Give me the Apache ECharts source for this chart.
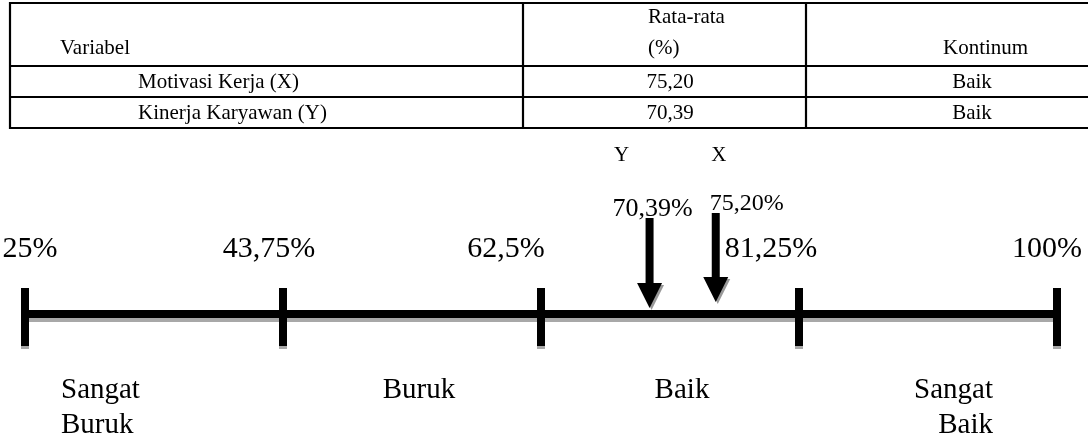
<!DOCTYPE html>
<html>
<head>
<meta charset="utf-8">
<script src="https://cdn.jsdelivr.net/npm/echarts@6/dist/echarts.min.js"></script>
<style>
html,body{margin:0;padding:0;background:#fff;}
#chart{width:1088px;height:443px;}
</style>
</head>
<body>
<div id="chart"></div>
<script>
// ---- data ----
const tableHeader = ['Variabel', 'Rata-rata', '(%)', 'Kontinum'];
const rowLabels = ['Motivasi Kerja (X)', 'Kinerja Karyawan (Y)'];
const rowMeans = ['75,20', '70,39'];
const rowContinuum = ['Baik', 'Baik'];
const scaleTicks = [25, 43.75, 62.5, 81.25, 100];
const tickLabels = ['25%', '43,75%', '62,5%', '81,25%', '100%'];
const categoryNames = ['Sangat\nBuruk', 'Buruk', 'Baik', 'Sangat\nBaik'];
const markerNames = ['Y', 'X'];
const markerValues = [70.39, 75.20];
const markerLabels = ['70,39%', '75,20%'];

// ---- style / layout ----
const FONT = "'Liberation Serif', 'Times New Roman', serif";
const GRAY = '#a8a8a8';
const tickLabelOffset = [5, -14, -35, -28, -10];
const catStyle = [
  {align: 'left', dx: -93},
  {align: 'center', dx: 7},
  {align: 'center', dx: 12},
  {align: 'right', dx: 65}
];
const arrowGeom = [
  {top: 218, head: 283, tip: 308, lblDx: 3, lblAlign: 'center', lblY: 209, lblSize: 26, nameDx: -28},
  {top: 213, head: 277, tip: 302, lblDx: -6, lblAlign: 'left', lblY: 204, lblSize: 24, nameDx: 3}
];

const chart = echarts.init(document.getElementById('chart'), null, {renderer: 'canvas'});

// table graphic elements
const tableEls = [];
const TL = 10, TR = 1090, colX = [TL, 523, 806];
const rowY = [3, 66, 97, 128];
rowY.forEach(y => tableEls.push({type: 'line', shape: {x1: TL - 1, y1: y, x2: TR, y2: y}, style: {stroke: '#000', lineWidth: 2.2}}));
colX.forEach(x => tableEls.push({type: 'line', shape: {x1: x, y1: 2, x2: x, y2: 129}, style: {stroke: '#000', lineWidth: 2.2}}));
function txt(s, x, y, align, size) {
  return {type: 'text', x: x, y: y, style: {text: s, fill: '#000', font: (size || 21) + 'px ' + FONT, align: align || 'left', verticalAlign: 'middle'}};
}
tableEls.push(txt(tableHeader[0], 60, 48));
tableEls.push(txt(tableHeader[1], 648, 17));
tableEls.push(txt(tableHeader[2], 648, 48));
tableEls.push(txt(tableHeader[3], 943, 48));
rowLabels.forEach((s, i) => {
  const y = 82 + i * 31;
  tableEls.push(txt(s, 138, y));
  tableEls.push(txt(rowMeans[i], 670, y, 'center'));
  tableEls.push(txt(rowContinuum[i], 972, y, 'center'));
});

const catMids = categoryNames.map((_, i) => (scaleTicks[i] + scaleTicks[i + 1]) / 2);

const option = {
  animation: false,
  backgroundColor: '#fff',
  grid: {left: 25, right: 31, top: 0, bottom: 0},
  xAxis: {type: 'value', min: 25, max: 100, show: false},
  yAxis: {type: 'value', min: 0, max: 1, show: false},
  graphic: tableEls,
  series: [
    {
      type: 'custom',
      data: [[scaleTicks[0], scaleTicks[scaleTicks.length - 1]]],
      renderItem: function (params, api) {
        const x1 = api.coord([api.value(0), 0])[0];
        const x2 = api.coord([api.value(1), 0])[0];
        return {type: 'group', children: [
          {type: 'rect', shape: {x: x1, y: 317, width: x2 - x1, height: 5}, style: {fill: GRAY}},
          {type: 'rect', shape: {x: x1, y: 310, width: x2 - x1, height: 8}, style: {fill: '#000'}}
        ]};
      }
    },
    {
      type: 'custom',
      data: scaleTicks.map((v, i) => [v, i]),
      renderItem: function (params, api) {
        const i = params.dataIndex;
        const x = api.coord([api.value(0), 0])[0];
        return {type: 'group', children: [
          {type: 'rect', shape: {x: x - 4, y: 291, width: 8, height: 58}, style: {fill: GRAY}},
          {type: 'rect', shape: {x: x - 4, y: 288, width: 8, height: 58}, style: {fill: '#000'}},
          {type: 'text', x: x + tickLabelOffset[i], y: 249, style: {text: tickLabels[i], fill: '#000', font: '30px ' + FONT, align: 'center', verticalAlign: 'middle'}}
        ]};
      }
    },
    {
      type: 'custom',
      data: markerValues.map((v, i) => [v, i]),
      renderItem: function (params, api) {
        const i = params.dataIndex;
        const g = arrowGeom[i];
        const x = api.coord([api.value(0), 0])[0];
        const head = [[x - 12.5, g.head], [x + 12.5, g.head], [x, g.tip]];
        const headShadow = head.map(p => [p[0] + 2, p[1] + 2]);
        return {type: 'group', children: [
          {type: 'polygon', shape: {points: headShadow}, style: {fill: '#999'}},
          {type: 'rect', shape: {x: x - 4, y: g.top, width: 8, height: g.head - g.top + 1}, style: {fill: '#000'}},
          {type: 'polygon', shape: {points: head}, style: {fill: '#000'}},
          {type: 'text', x: x + g.lblDx, y: g.lblY, style: {text: markerLabels[i], fill: '#000', font: g.lblSize + 'px ' + FONT, align: g.lblAlign, verticalAlign: 'middle'}},
          {type: 'text', x: x + g.nameDx, y: 155, style: {text: markerNames[i], fill: '#000', font: '21px ' + FONT, align: 'center', verticalAlign: 'middle'}}
        ]};
      }
    },
    {
      type: 'custom',
      data: catMids.map((v, i) => [v, i]),
      renderItem: function (params, api) {
        const i = params.dataIndex;
        const s = catStyle[i];
        const x = api.coord([api.value(0), 0])[0];
        return {type: 'text', x: x + s.dx, y: 373, style: {text: categoryNames[i], fill: '#000', font: '29px ' + FONT, lineHeight: 35, align: s.align, verticalAlign: 'top'}};
      }
    }
  ]
};
chart.setOption(option);
</script>
</body>
</html>
